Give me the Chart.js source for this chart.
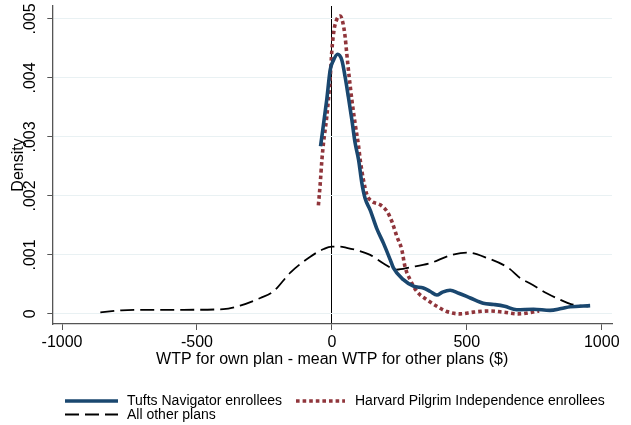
<!DOCTYPE html>
<html>
<head>
<meta charset="utf-8">
<script src="https://cdn.jsdelivr.net/npm/chart.js@4/dist/chart.umd.min.js"></script>
<style>
  html, body { margin: 0; padding: 0; background: #fff; }
  #wrap { width: 631px; height: 425px; }
</style>
</head>
<body>
<div id="wrap"><canvas id="c" width="631" height="425"></canvas></div>
<script>
// ---- data ----
const tuftsX = [-42, -19, -6, 6, 21, 37, 49, 61, 74, 86, 99, 111, 123, 142, 166, 191, 216, 228, 265, 302, 339, 365, 389, 410, 438, 470, 513, 561, 600, 640, 685, 747, 808, 850, 883, 957];
const tuftsY = [0.00284, 0.00363, 0.00414, 0.00430, 0.00440, 0.00430, 0.00402, 0.00368, 0.00329, 0.00290, 0.00261, 0.00222, 0.00196, 0.00176, 0.00145, 0.00120, 0.00092, 0.00078, 0.00058, 0.00047, 0.00044, 0.00038, 0.00032, 0.00037, 0.00040, 0.00035, 0.00027, 0.00018, 0.00016, 0.00013, 0.00007, 0.00008, 0.00006, 0.00009, 0.00012, 0.00014];

const harvardX = [-50, -43, -37, -31, -19, -6, 0, 8, 18, 31, 41, 49, 55, 64, 74, 86, 99, 105, 117, 130, 148, 179, 204, 222, 241, 259, 271, 290, 315, 352, 389, 426, 475, 524, 586, 636, 690, 768];
const harvardY = [0.00184, 0.00222, 0.00261, 0.00290, 0.00334, 0.00402, 0.00447, 0.00481, 0.00499, 0.00505, 0.00493, 0.00470, 0.00442, 0.00402, 0.00363, 0.00323, 0.00284, 0.00261, 0.00227, 0.00202, 0.00191, 0.00185, 0.00174, 0.00157, 0.00131, 0.00109, 0.00080, 0.00058, 0.00038, 0.00024, 0.00013, 0.00004, 0.00000, 0.00003, 0.00005, 0.00003, 0.00000, 0.00005];

const otherX = [-858, -780, -683, -550, -402, -340, -265, -217, -154, -80, -30, 0, 30, 55, 100, 142, 190, 240, 290, 364, 438, 500, 574, 654, 700, 733, 796, 846, 883, 920, 950];
const otherY = [0.000025, 0.00006, 0.00007, 0.00007, 0.00008, 0.00014, 0.00027, 0.00038, 0.00070, 0.00097, 0.00110, 0.00114, 0.00114, 0.00112, 0.00107, 0.00100, 0.00086, 0.00075, 0.00079, 0.00086, 0.00099, 0.00104, 0.00095, 0.00078, 0.00060, 0.00052, 0.00035, 0.00024, 0.00017, 0.00014, 0.00013];

const xTickValues = [-1000, -500, 0, 500, 1000];
const yTickValues = [0, 0.001, 0.002, 0.003, 0.004, 0.005];
const yTickLabels = ['0', '.001', '.002', '.003', '.004', '.005'];
const seriesLabels = ['Tufts Navigator enrollees', 'Harvard Pilgrim Independence enrollees', 'All other plans'];
const xTitle = 'WTP for own plan - mean WTP for other plans ($)';
const yTitle = 'Density';

// ---- chart ----
const FONT = '"Liberation Sans", Arial, Helvetica, sans-serif';
const toPts = (xs, ys) => xs.map((x, i) => ({ x: x, y: ys[i] }));

const overlay = {
  id: 'overlay',
  afterDraw(chart) {
    const { ctx, chartArea, scales } = chart;
    const ys = scales.y;
    ctx.save();
    ctx.fillStyle = '#000';
    // rotated y tick labels
    ctx.font = '16px ' + FONT;
    ctx.textAlign = 'center';
    ctx.textBaseline = 'middle';
    yTickValues.forEach((v, i) => {
      const py = ys.getPixelForValue(v);
      ctx.save();
      ctx.translate(31, py);
      ctx.rotate(-Math.PI / 2);
      ctx.fillText(yTickLabels[i], 0, 0);
      ctx.restore();
    });
    // y title
    ctx.save();
    ctx.translate(19, (chartArea.top + chartArea.bottom) / 2);
    ctx.rotate(-Math.PI / 2);
    ctx.fillText(yTitle, 0, 0);
    ctx.restore();

    // legend
    ctx.font = '14px ' + FONT;
    ctx.textAlign = 'left';
    ctx.textBaseline = 'middle';
    const items = [
      { ds: 0, x0: 65, x1: 118, tx: 127, y: 401 },
      { ds: 1, x0: 296, x1: 345, tx: 355, y: 401 },
      { ds: 2, x0: 65, x1: 118, tx: 127, y: 414.5 }
    ];
    items.forEach(it => {
      const d = chart.data.datasets[it.ds];
      ctx.save();
      ctx.strokeStyle = d.borderColor;
      ctx.lineWidth = d.borderWidth;
      ctx.setLineDash(d.borderDash || []);
      ctx.lineCap = 'butt';
      ctx.beginPath();
      ctx.moveTo(it.x0, it.y);
      ctx.lineTo(it.x1, it.y);
      ctx.stroke();
      ctx.restore();
      ctx.fillText(d.label, it.tx, it.y + 0.5);
    });
    ctx.restore();
  }
};

new Chart(document.getElementById('c').getContext('2d'), {
  type: 'line',
  data: {
    datasets: [
      { label: seriesLabels[0], data: toPts(tuftsX, tuftsY), borderColor: '#1a476f', borderWidth: 3.6,
        pointRadius: 0, cubicInterpolationMode: 'monotone', fill: false },
      { label: seriesLabels[1], data: toPts(harvardX, harvardY), borderColor: '#90353b', borderWidth: 3.6,
        borderDash: [3.6, 3], pointRadius: 0, cubicInterpolationMode: 'monotone', fill: false },
      { label: seriesLabels[2], data: toPts(otherX, otherY), borderColor: '#000', borderWidth: 1.8,
        borderDash: [14, 6], pointRadius: 0, cubicInterpolationMode: 'monotone', fill: false }
    ]
  },
  options: {
    responsive: false,
    animation: false,
    events: [],
    layout: { padding: { left: 0, right: 19, top: 6, bottom: 0 } },
    plugins: { legend: { display: false }, tooltip: { enabled: false } },
    scales: {
      x: {
        type: 'linear', min: -1036, max: 1038,
        afterBuildTicks: s => { s.ticks = xTickValues.map(v => ({ value: v })); },
        afterFit: s => { s.height = 101; },
        grid: {
          color: c => (c.tick && c.tick.value === 0) ? '#000' : 'rgba(0,0,0,0)',
          lineWidth: 1, tickColor: '#555', tickLength: 6, drawTicks: true
        },
        border: { color: '#555', width: 1.3 },
        ticks: { font: { size: 16, family: FONT }, color: '#000', padding: 3, maxRotation: 0,
                 callback: v => String(v) },
        title: { display: true, text: xTitle, color: '#000', font: { size: 16, family: FONT },
                 padding: { top: 0, bottom: 56 } }
      },
      y: {
        type: 'linear', min: -0.000171, max: 0.005219,
        afterBuildTicks: s => { s.ticks = yTickValues.map(v => ({ value: v })); },
        afterFit: s => { s.width = 52.3; },
        grid: { color: '#e9f1f3', lineWidth: 1, tickColor: '#555', tickLength: 5, drawTicks: true },
        border: { color: '#555', width: 1.3 },
        ticks: { display: false }
      }
    }
  },
  plugins: [overlay]
});
</script>
</body>
</html>
